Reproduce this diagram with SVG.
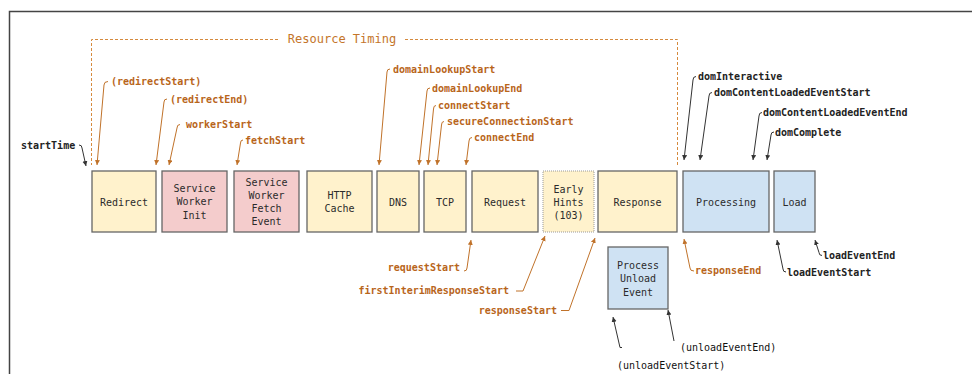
<svg xmlns="http://www.w3.org/2000/svg" width="972" height="374" viewBox="0 0 972 374">
<defs>
<style>
.box{stroke:#666;stroke-width:1.3}
.y{fill:#fff2cc}.p{fill:#f4cccc}.b{fill:#cfe2f3}
.nt{font-family:"DejaVu Sans Mono","Liberation Mono",monospace;font-size:10px;fill:#2b2b2b;text-anchor:middle}
.lo{font-family:"DejaVu Sans Mono","Liberation Mono",monospace;font-size:10px;font-weight:bold;fill:#b8651b}
.lk{font-family:"DejaVu Sans Mono","Liberation Mono",monospace;font-size:10px;font-weight:bold;fill:#222}
.lr{font-family:"DejaVu Sans Mono","Liberation Mono",monospace;font-size:10px;fill:#111}
.ao{fill:none;stroke:#c0722a;stroke-width:1;marker-end:url(#mo)}
.ak{fill:none;stroke:#333;stroke-width:1;marker-end:url(#mk)}
</style>
<marker id="mo" markerUnits="userSpaceOnUse" markerWidth="6" markerHeight="6" refX="5" refY="2.5" orient="auto"><path d="M0,0 L5,2.5 L0,5 z" fill="#c0722a"/></marker>
<marker id="mk" markerUnits="userSpaceOnUse" markerWidth="6" markerHeight="6" refX="5" refY="2.5" orient="auto"><path d="M0,0 L5,2.5 L0,5 z" fill="#333"/></marker>
</defs>
<rect width="972" height="374" fill="#fff"/>
<path d="M9.5,374 V11.5 H972" fill="none" stroke="#444" stroke-width="1.5"/>
<g id="resource-timing">
<path d="M278,39.5 H91.5 V165 M405,39.5 H677.5 V165" fill="none" stroke="#d58a3e" stroke-width="1" stroke-dasharray="3,2"/>
<text x="342" y="42.5" text-anchor="middle" font-family="DejaVu Sans Mono,Liberation Mono,monospace" font-size="12" fill="#c4752a">Resource Timing</text>
</g>
<g id="n-redirect"><rect class="box y" x="92" y="171" width="64" height="61"/><text class="nt" x="124" y="205.5">Redirect</text></g>
<g id="n-swinit"><rect class="box p" x="162" y="171" width="65" height="61"/><text class="nt" x="194.5" y="192">Service</text><text class="nt" x="194.5" y="205.3">Worker</text><text class="nt" x="194.5" y="218.6">Init</text></g>
<g id="n-swfetch"><rect class="box p" x="234" y="171" width="65" height="61"/><text class="nt" x="266.5" y="186">Service</text><text class="nt" x="266.5" y="199">Worker</text><text class="nt" x="266.5" y="212">Fetch</text><text class="nt" x="266.5" y="225">Event</text></g>
<g id="n-http"><rect class="box y" x="307" y="171" width="65" height="61"/><text class="nt" x="339.5" y="198.5">HTTP</text><text class="nt" x="339.5" y="212">Cache</text></g>
<g id="n-dns"><rect class="box y" x="377" y="171" width="42" height="61"/><text class="nt" x="398" y="205.5">DNS</text></g>
<g id="n-tcp"><rect class="box y" x="424" y="171" width="42" height="61"/><text class="nt" x="445" y="205.5">TCP</text></g>
<g id="n-request"><rect class="box y" x="472" y="171" width="66" height="61"/><text class="nt" x="505" y="205.5">Request</text></g>
<g id="n-early"><rect x="543" y="171" width="51" height="61" fill="#fff2cc" stroke="#999" stroke-width="1" stroke-dasharray="1,1"/><text class="nt" x="568.5" y="192.5">Early</text><text class="nt" x="568.5" y="205.5">Hints</text><text class="nt" x="568.5" y="218.8">(103)</text></g>
<g id="n-response"><rect class="box y" x="598" y="171" width="79" height="61"/><text class="nt" x="637.5" y="205.5">Response</text></g>
<g id="n-processing"><rect class="box b" x="683" y="171" width="86" height="61"/><text class="nt" x="726" y="205.5">Processing</text></g>
<g id="n-load"><rect class="box b" x="774" y="171" width="41" height="61"/><text class="nt" x="794.5" y="205.5">Load</text></g>
<g id="n-unload"><rect class="box b" x="608" y="247" width="60" height="62"/><text class="nt" x="638" y="269">Process</text><text class="nt" x="638" y="282.3">Unload</text><text class="nt" x="638" y="295.6">Event</text></g>
<g id="labels">
<text class="lk" x="21" y="149">startTime</text>
<text class="lo" x="111" y="85">(redirectStart)</text>
<text class="lo" x="170" y="102.5">(redirectEnd)</text>
<text class="lo" x="186" y="128">workerStart</text>
<text class="lo" x="245" y="143.5">fetchStart</text>
<text class="lo" x="393" y="72.5">domainLookupStart</text>
<text class="lo" x="432" y="91.5">domainLookupEnd</text>
<text class="lo" x="438" y="109">connectStart</text>
<text class="lo" x="447" y="125">secureConnectionStart</text>
<text class="lo" x="474" y="141">connectEnd</text>
<text class="lk" x="698" y="80">domInteractive</text>
<text class="lk" x="714" y="96">domContentLoadedEventStart</text>
<text class="lk" x="763" y="116">domContentLoadedEventEnd</text>
<text class="lk" x="775" y="135.5">domComplete</text>
<text class="lo" x="460" y="271" text-anchor="end">requestStart</text>
<text class="lo" x="509" y="294" text-anchor="end">firstInterimResponseStart</text>
<text class="lo" x="557" y="314" text-anchor="end">responseStart</text>
<text class="lo" x="695" y="274">responseEnd</text>
<text class="lk" x="787" y="275.5">loadEventStart</text>
<text class="lk" x="823" y="259">loadEventEnd</text>
<text class="lr" x="680" y="351">(unloadEventEnd)</text>
<text class="lr" x="617" y="368.5">(unloadEventStart)</text>
</g>
<g id="connectors">
<path class="ak" d="M79,145 Q82,145 82,148 L86,166"/>
<path class="ao" d="M108,81.5 Q104,81.5 104,85 L97,165"/>
<path class="ao" d="M167,99 Q164,99 164,102 L156,165"/>
<path class="ao" d="M180,124.5 Q177,124.5 177,128 L169,165"/>
<path class="ao" d="M243,140 Q240.5,140 240.5,143 L237,165"/>
<path class="ao" d="M390,69 Q387,69 387,72 L379,165"/>
<path class="ao" d="M430,88 Q427,88 427,91 L419,165"/>
<path class="ao" d="M436,105.5 Q433.5,105.5 433.5,109 L428,165"/>
<path class="ao" d="M444,121.5 Q441.5,121.5 441.5,125 L437,165"/>
<path class="ao" d="M472,137.5 Q469,137.5 469,141 L466,165"/>
<path class="ak" d="M696,76.5 Q693,76.5 693,80 L684,160"/>
<path class="ak" d="M712,92.5 Q709,92.5 709,96 L700,160"/>
<path class="ak" d="M762,112.5 Q759,112.5 759,116 L753,160"/>
<path class="ak" d="M774,132 Q771,132 771,135 L767,160"/>
<path class="ao" d="M464,271 Q467,271 467,268 L471,240"/>
<path class="ao" d="M516,291 L523,291 L545,236"/>
<path class="ao" d="M561,310.5 L569,310.5 L595,238"/>
<path class="ao" d="M694,271 Q690,271 690,268 L684,239"/>
<path class="ak" d="M786,272 Q783,272 783,269 L777,240"/>
<path class="ak" d="M822,255.5 Q819,255.5 819,252.5 L815,240"/>
<path class="ak" d="M674,341 L668,310"/>
<path class="ak" d="M622,347.5 L620,347.5 L613,317"/>
</g>
</svg>
